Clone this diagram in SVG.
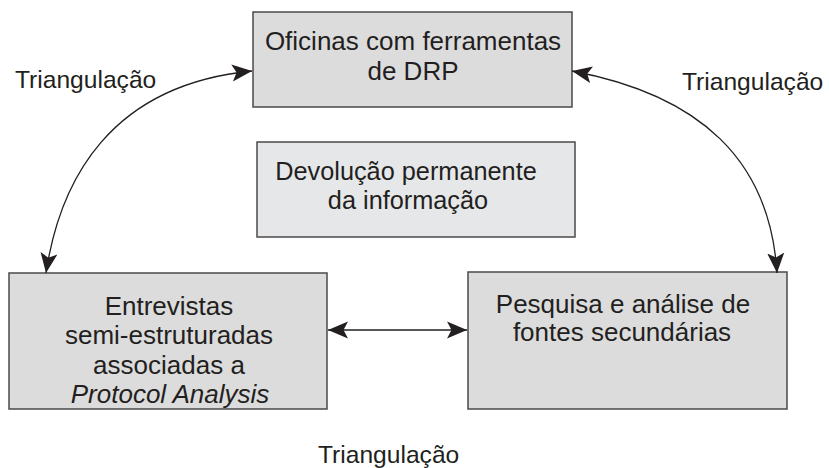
<svg xmlns="http://www.w3.org/2000/svg" width="829" height="468" viewBox="0 0 829 468">
<style>
.box{fill:#dcdcdc;stroke:#4a4a4a;stroke-width:1.5}
.box2{fill:#e6e7e9;stroke:#4a4a4a;stroke-width:1.5}
.t{font-family:"Liberation Sans",Arial,sans-serif;font-size:26px;fill:#231f20;text-anchor:middle}
.lab{font-family:"Liberation Sans",Arial,sans-serif;font-size:24.6px;fill:#231f20}
.c{fill:none;stroke:#231f20;stroke-width:1.3;marker-start:url(#ah);marker-end:url(#ah)}
</style>
<defs>
<marker id="ah" markerUnits="userSpaceOnUse" markerWidth="22" markerHeight="18" refX="20" refY="9" orient="auto-start-reverse">
<path d="M0,0.5 L20,9 L0,17.5 L4.5,9 z" fill="#231f20"/>
</marker>
</defs>
<g id="n-oficinas">
<rect class="box" x="253" y="12" width="319" height="95"/>
<text class="t" x="413" y="50">Oficinas com ferramentas</text>
<text class="t" x="413" y="80">de DRP</text>
</g>
<g id="n-devolucao">
<rect class="box2" x="257" y="142" width="318" height="95"/>
<text class="t" x="406" y="180" style="font-size:25.3px">Devolução permanente</text>
<text class="t" x="408" y="209" style="font-size:25.3px">da informação</text>
</g>
<g id="n-entrevistas">
<rect class="box" x="9" y="273" width="318" height="136"/>
<text class="t" x="169" y="315">Entrevistas</text>
<text class="t" x="169" y="344">semi-estruturadas</text>
<text class="t" x="169" y="374">associadas a</text>
<text class="t" x="170" y="403" font-style="italic">Protocol Analysis</text>
</g>
<g id="n-pesquisa">
<rect class="box" x="468" y="272" width="319" height="137"/>
<text class="t" x="623" y="313">Pesquisa e análise de</text>
<text class="t" x="622" y="341">fontes secundárias</text>
</g>
<g id="connectors">
<path class="c" d="M46,273 C60,180 110,85 252,71"/>
<path class="c" d="M572,71 C700,95 770,160 777,273"/>
<path class="c" d="M328,330 L467,330"/>
</g>
<g id="labels">
<text class="lab" x="15" y="88">Triangulação</text>
<text class="lab" x="682" y="90">Triangulação</text>
<text class="lab" x="318" y="463">Triangulação</text>
</g>
</svg>
